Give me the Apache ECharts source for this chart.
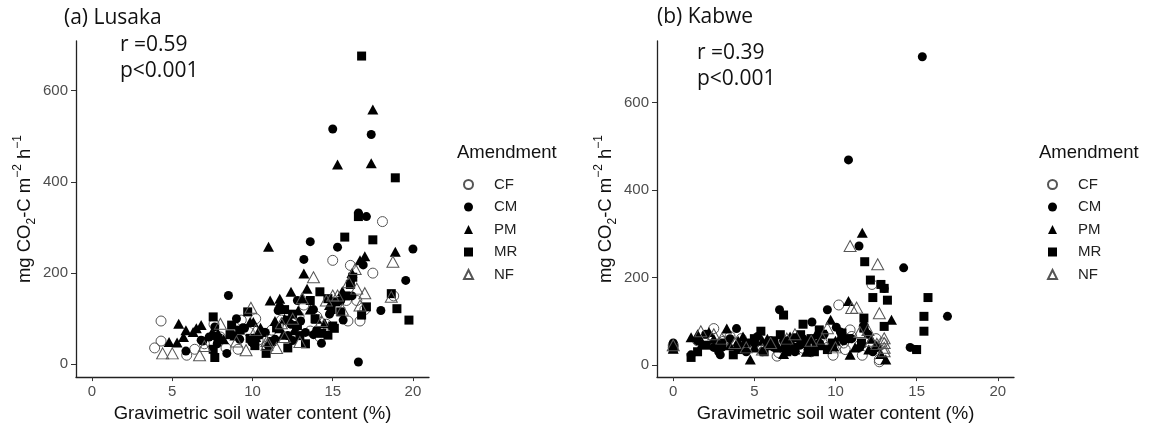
<!DOCTYPE html>
<html>
<head>
<meta charset="utf-8">
<script src="https://cdn.jsdelivr.net/npm/echarts@6/dist/echarts.min.js"></script>
<style>html,body{margin:0;padding:0;background:#fff}#c{width:1157px;height:428px}</style>
</head>
<body>
<div id="c"></div>
<script>
// ---------- data ----------
const amendments = ['CF', 'CM', 'PM', 'MR', 'NF'];
const xTicks = [0, 5, 10, 15, 20];
const yTicks = [0, 200, 400, 600];

// Lusaka: [soil water %, mg CO2-C m-2 h-1]
const lusakaCF = [[3.9,36],[4.3,51],[4.3,95],[5.9,20],[6.4,33],[7.0,45],[8.35,36],[8.0,60],[9.1,33],[9.3,97],[9.8,70],[10.35,53],[11.2,75],[11.8,97],[12.5,60],[13.6,73],[13.2,130],[14.0,105],[15.0,228],[15.85,140],[15.95,95],[16.1,217],[16.5,140],[17.5,200],[18.1,313],[17.0,120],[18.8,150],[12.9,105],[10.2,100],[7.6,88],[14.6,88],[16.7,95],[10.9,40],[12.2,80],[14.2,60]];
const lusakaCM = [[5.85,29],[6.9,51],[6.8,53],[7.3,60],[7.55,63],[7.65,82],[8.4,24],[8.5,151],[9.4,80],[9.5,79],[9.95,49],[10.05,46],[10.45,64],[11.6,118],[11.7,126],[12.2,63],[12.75,82],[13.2,230],[13.6,269],[13.8,65],[13.8,120],[14.3,46],[15.0,516],[15.3,257],[15.65,97],[16.6,332],[16.6,5],[16.9,218],[17.1,324],[17.4,504],[18.0,118],[19.55,184],[20.0,253],[11.0,40],[12.8,140],[9.0,100],[13.3,70],[12.5,52],[10.8,70],[11.4,55],[12.4,88],[13.0,95],[14.0,75],[14.8,110],[15.5,140],[16.2,150],[7.8,45],[9.2,55]];
const lusakaPM = [[4.8,49],[5.3,48],[5.4,89],[5.7,60],[5.85,75],[6.3,71],[6.5,79],[6.8,86],[7.45,68],[7.85,68],[8.9,63],[9.85,93],[10.05,93],[11.0,258],[11.1,140],[11.7,144],[11.7,79],[11.9,65],[12.4,159],[12.85,118],[13.1,145],[13.2,199],[13.4,166],[14.0,100],[15.3,438],[16.7,228],[17.0,237],[17.4,441],[17.5,559],[18.9,247],[12.0,100],[10.5,80],[14.5,90],[10.2,60],[11.4,95],[12.6,75],[13.6,120],[14.8,130],[15.6,160],[16.2,200],[8.2,55]];
const lusakaMR = [[7.55,104],[7.55,33],[7.65,15],[7.85,57],[8.6,65],[8.7,86],[9.7,115],[9.85,57],[10.15,41],[10.85,24],[12.2,97],[12.2,36],[12.95,63],[13.6,140],[14.2,159],[14.3,68],[14.7,144],[14.7,64],[15.0,84],[15.1,79],[15.2,137],[15.5,115],[15.75,279],[16.1,175],[16.25,191],[16.8,108],[16.6,324],[16.8,676],[17.1,126],[17.5,273],[18.65,155],[18.9,409],[19.0,122],[19.75,97],[12.5,110],[11.5,80],[10.6,70],[11.2,50],[12.0,120],[12.8,85],[13.3,45],[13.9,100],[14.9,120],[15.8,150],[9.2,75]];
const lusakaNF = [[4.4,24],[5.0,24],[6.7,20],[8.0,89],[9.6,31],[9.9,124],[10.9,51],[10.9,43],[11.5,36],[12.95,49],[13.1,145],[13.8,191],[14.3,95],[15.0,151],[15.3,151],[16.4,209],[16.5,166],[16.7,129],[17.0,156],[18.65,148],[18.75,225],[12.0,60],[7.0,40],[9.0,50],[10.2,75],[11.8,90],[12.5,100],[14.6,140],[15.6,120],[16.0,180]];

// Kabwe
const kabweCF = [[0,45],[0,40],[2.5,83],[3.1,54],[2.0,50],[4.2,60],[5.5,40],[6.4,20],[6.5,28],[7.0,35],[7.5,45],[8.5,30],[9.85,22],[10.2,137],[10.9,80],[10.5,50],[11.0,65],[11.65,22],[12.25,184],[12.5,60],[12.7,12],[12.7,7],[11.5,45],[9.0,60],[3.5,65],[1.5,55],[12.9,50],[8.0,38],[5.0,48],[6.8,50],[9.5,40],[10.6,35]];
const kabweCM = [[0,50],[1.1,23],[2.9,23],[2.8,30],[3.9,83],[2.0,70],[4.0,45],[5.0,50],[6.55,126],[7.0,40],[7.5,30],[8.55,98],[9.5,126],[10.05,86],[10.3,75],[10.8,469],[11.45,272],[11.0,60],[12.0,70],[12.6,40],[13.0,175],[14.2,222],[14.6,40],[14.95,35],[15.35,705],[16.9,111],[6.0,55],[8.0,60],[9.0,50],[11.5,40],[3.0,40],[5.5,30],[1.5,55],[2.5,40],[3.5,60],[4.5,30],[5.2,65],[6.2,40],[6.8,55],[7.8,45],[8.3,35],[9.3,70],[10.5,55],[12.3,30]];
const kabwePM = [[0,37],[1.1,63],[1.5,70],[2.2,75],[2.5,60],[3.3,83],[4.0,55],[4.75,12],[5.0,40],[5.5,55],[6.0,45],[7.2,65],[7.8,50],[8.2,30],[9.7,103],[9.9,42],[10.8,146],[10.9,23],[11.65,302],[11.75,99],[11.8,88],[12.05,35],[12.2,60],[13.1,12],[13.45,103],[10.0,55],[3.5,45],[6.8,25],[8.8,70],[1.8,50],[2.8,45],[4.3,65],[5.8,60],[6.5,40],[7.5,35],[8.5,60],[9.2,45],[10.3,65],[11.2,40],[12.5,45],[12.8,25]];
const kabweMR = [[0,37],[1.1,17],[2.0,45],[3.7,23],[4.5,50],[5.4,77],[5.8,45],[6.6,69],[6.8,114],[7.2,55],[7.5,40],[7.85,69],[8.0,93],[8.5,60],[8.8,45],[9.2,70],[10.4,73],[11.75,107],[11.75,84],[11.8,236],[12.15,194],[12.3,154],[12.8,184],[13.0,175],[13.0,88],[13.2,148],[15.0,35],[15.45,111],[15.45,77],[15.7,154],[7.0,30],[9.5,35],[4.0,35],[1.5,30],[3.0,50],[5.0,60],[5.6,30],[6.2,55],[6.9,45],[7.6,62],[8.2,52],[8.7,30],[9.0,80],[9.8,50],[10.8,60],[11.6,50]];
const kabweNF = [[0,45],[1.7,77],[2.5,70],[3.0,60],[4.5,40],[6.0,50],[7.0,60],[8.5,55],[9.5,84],[10.9,272],[11.3,131],[11.0,130],[12.55,48],[12.6,230],[12.7,118],[13.0,61],[13.0,50],[13.0,39],[13.0,31],[12.0,80],[5.5,35],[10.0,40],[3.8,50],[7.5,70],[9.2,60],[11.5,75],[12.2,55]];

const panelTitles = ['(a) Lusaka', '(b) Kabwe'];
const rValues = ['r =0.59', 'r =0.39'];
const pValues = ['p<0.001', 'p<0.001'];

// ---------- styling ----------
const SANS = '"Liberation Sans", Arial, sans-serif';
const ANN = '"Open Sans", "Noto Sans", sans-serif';
const styles = {
  CF: {symbol: 'circle', symbolSize: 10, itemStyle: {color: 'rgba(0,0,0,0)', borderColor: '#555', borderWidth: 1, opacity: 1}},
  CM: {symbol: 'circle', symbolSize: 9, itemStyle: {color: '#000', opacity: 1}},
  PM: {symbol: 'triangle', symbolSize: [11, 10], itemStyle: {color: '#000', opacity: 1}},
  MR: {symbol: 'rect', symbolSize: 9, itemStyle: {color: '#000', opacity: 1}},
  NF: {symbol: 'triangle', symbolSize: [12, 11], itemStyle: {color: 'rgba(0,0,0,0)', borderColor: '#555', borderWidth: 1, opacity: 1}}
};
const panels = [
  {CF: lusakaCF, CM: lusakaCM, PM: lusakaPM, MR: lusakaMR, NF: lusakaNF},
  {CF: kabweCF, CM: kabweCM, PM: kabwePM, MR: kabweMR, NF: kabweNF}
];
const grids = [
  {left: 76, top: 41, width: 353, height: 338},
  {left: 657, top: 41, width: 357, height: 338}
];
const yRanges = [[-28, 709], [-28, 741]];

const yName = '{m|mg CO}{sub|2}{m|-C m}{sup|−2}{m| h}{sup|−1}';

function xAxis(i) {
  return {
    gridIndex: i, type: 'value', min: -1, max: 21,
    axisLine: {show: true, onZero: false, lineStyle: {color: '#222', width: 1.3}},
    axisTick: {show: true, customValues: xTicks, length: 4, lineStyle: {color: '#333'}},
    axisLabel: {customValues: xTicks, color: '#4d4d4d', fontSize: 15, margin: 7, fontFamily: SANS},
    splitLine: {show: false},
    name: 'Gravimetric soil water content (%)', nameLocation: 'middle', nameGap: 21,
    nameTextStyle: {fontSize: 18.5, color: '#111', fontFamily: SANS}
  };
}
function yAxis(i) {
  return {
    gridIndex: i, type: 'value', min: yRanges[i][0], max: yRanges[i][1],
    axisLine: {show: true, onZero: false, lineStyle: {color: '#222', width: 1.3}},
    axisTick: {show: true, customValues: yTicks, length: 5, lineStyle: {color: '#333'}},
    axisLabel: {customValues: yTicks, color: '#4d4d4d', fontSize: 15, margin: 8, fontFamily: SANS},
    splitLine: {show: false},
    name: yName, nameLocation: 'middle', nameRotate: 90, nameGap: 38,
    nameTextStyle: {
      color: '#111', fontFamily: SANS,
      rich: {
        m: {fontSize: 18.5, lineHeight: 26, color: '#111', fontFamily: SANS},
        sub: {fontSize: 12, lineHeight: 16, verticalAlign: 'bottom', color: '#111', fontFamily: SANS},
        sup: {fontSize: 12, lineHeight: 12, verticalAlign: 'top', color: '#111', fontFamily: SANS}
      }
    }
  };
}

const series = [];
panels.forEach((p, i) => {
  amendments.forEach(a => {
    series.push(Object.assign({
      name: a, type: 'scatter', xAxisIndex: i, yAxisIndex: i,
      data: p[a], emphasis: {disabled: true}
    }, JSON.parse(JSON.stringify(styles[a]))));
  });
});

function legend(left) {
  return {
    data: amendments, orient: 'vertical', left: left, top: 172,
    itemWidth: 9, itemHeight: 9, itemGap: 7.5, selectedMode: false,
    textStyle: {fontSize: 15, color: '#222', fontFamily: SANS, lineHeight: 14, padding: [0, 0, 0, 16]}
  };
}

const annPos = [
  {title: [64, 21], r: [120, 48], p: [120, 74], leg: [457, 153]},
  {title: [657, 20], r: [697, 56], p: [697, 82], leg: [1039, 153]}
];
const graphic = [];
annPos.forEach((a, i) => {
  graphic.push({type: 'text', left: a.title[0], top: a.title[1] - 13, style: {text: panelTitles[i], fontSize: 21, fontFamily: ANN, fill: '#111'}});
  graphic.push({type: 'text', left: a.r[0], top: a.r[1] - 13, style: {text: rValues[i], fontSize: 21, fontFamily: ANN, fill: '#111'}});
  graphic.push({type: 'text', left: a.p[0], top: a.p[1] - 13, style: {text: pValues[i], fontSize: 21, fontFamily: ANN, fill: '#111'}});
  graphic.push({type: 'text', left: a.leg[0], top: a.leg[1] - 10, style: {text: 'Amendment', fontSize: 18.5, fontFamily: SANS, fill: '#111'}});
});

const chart = echarts.init(document.getElementById('c'), null, {renderer: 'canvas'});
chart.setOption({
  animation: false,
  backgroundColor: '#fff',
  grid: grids,
  xAxis: [xAxis(0), xAxis(1)],
  yAxis: [yAxis(0), yAxis(1)],
  legend: [legend(458), legend(1042)],
  graphic: graphic,
  series: series
});
</script>
</body>
</html>
